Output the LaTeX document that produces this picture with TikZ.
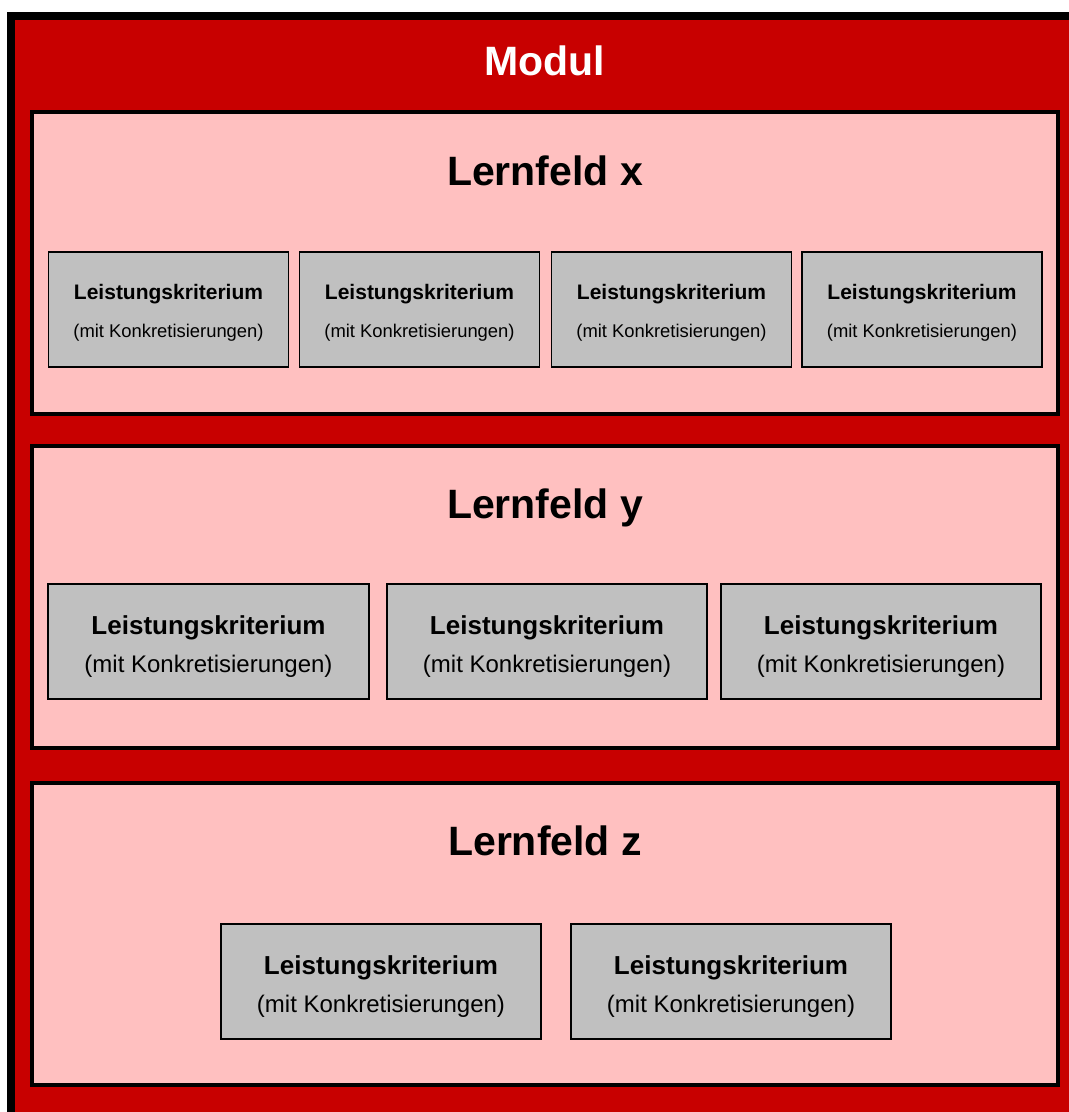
\documentclass[tikz,border=0pt]{standalone}
\usepackage{fontspec}
\setmainfont{Liberation Sans}
\definecolor{modulrot}{HTML}{C80000}
\definecolor{feldrosa}{HTML}{FFC0C0}
\definecolor{kritgrau}{HTML}{C0C0C0}
\newcommand{\fettklein}{\fontsize{21}{38}\selectfont\bfseries\rule{0pt}{21pt}}
\newcommand{\fettgross}{\fontsize{26}{38}\selectfont\bfseries\rule{0pt}{28pt}}

\begin{document}
\begin{tikzpicture}[x=1pt,y=-1pt,
	feldbox/.style={draw,line width=4pt,fill=feldrosa,minimum width=1025.5pt,minimum height=302pt,inner sep=0pt},
	kritbox/.style={draw,line width=1.5pt,fill=kritgrau,minimum height=115pt,inner sep=0pt,align=center},
	kritklein/.style={kritbox,minimum width=240pt,font=\fontsize{18.4}{38}\selectfont},
	kritgross/.style={kritbox,minimum width=320pt,font=\fontsize{24}{38}\selectfont},
	titel/.style={anchor=base,font=\fontsize{41}{49}\selectfont\bfseries}]
	\clip (0,0) rectangle (1069,1112);
	\fill[white] (0,0) rectangle (1069,1112);
	\draw[line width=8pt,fill=modulrot] (11,15.5) rectangle (1100,1140);
	\node[titel,text=white] (modul) at (545,75) {Modul};

	\node[feldbox] (feldx) at (544.75,262.5) {};
	\node[feldbox] (feldy) at (544.75,596.5) {};
	\node[feldbox] (feldz) at (544.75,933.5) {};
	\node[titel] (titelx) at (545,185) {Lernfeld x};
	\node[titel] (titely) at (545,518) {Lernfeld y};
	\node[titel] (titelz) at (545,855) {Lernfeld z};

	\node[kritklein] (x1) at (168.5,309.5) {{\fettklein Leistungskriterium}\\(mit Konkretisierungen)};
	\node[kritklein] (x2) at (419.5,309.5) {{\fettklein Leistungskriterium}\\(mit Konkretisierungen)};
	\node[kritklein] (x3) at (671.5,309.5) {{\fettklein Leistungskriterium}\\(mit Konkretisierungen)};
	\node[kritklein] (x4) at (922,309.5) {{\fettklein Leistungskriterium}\\(mit Konkretisierungen)};

	\node[kritgross,minimum width=321pt] (y1) at (208.5,641.5) {{\fettgross Leistungskriterium}\\(mit Konkretisierungen)};
	\node[kritgross] (y2) at (547,641.5) {{\fettgross Leistungskriterium}\\(mit Konkretisierungen)};
	\node[kritgross] (y3) at (881,641.5) {{\fettgross Leistungskriterium}\\(mit Konkretisierungen)};

	\node[kritgross] (z1) at (381,981.5) {{\fettgross Leistungskriterium}\\(mit Konkretisierungen)};
	\node[kritgross] (z2) at (731,981.5) {{\fettgross Leistungskriterium}\\(mit Konkretisierungen)};
\end{tikzpicture}
\end{document}
